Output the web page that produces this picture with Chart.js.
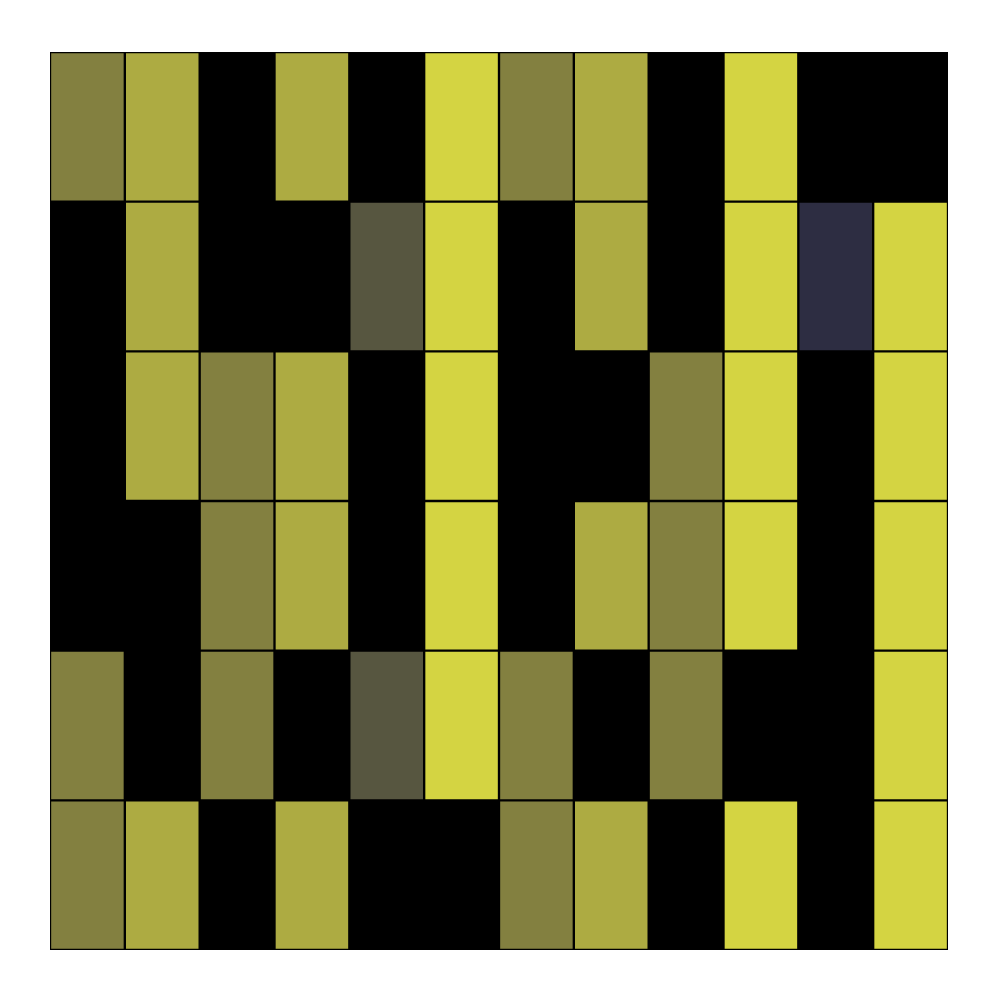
<!DOCTYPE html>
<html>
<head>
<meta charset="utf-8">
<script src="https://cdn.jsdelivr.net/npm/chart.js@4"></script>
<style>
html,body{margin:0;padding:0;background:#fff;}
#wrap{width:1000px;height:1000px;}
</style>
</head>
<body>
<div id="wrap"><canvas id="c" width="1000" height="1000"></canvas></div>
<script>
const columns = ['1','2','3','4','5','6','7','8','9','10','11','12'];
const rowLabels = ['A','B','C','D','E','F'];
// level per cell (0..5), top row first
const row0 = [3,4,0,4,0,5,3,4,0,5,0,0];
const row1 = [0,4,0,0,2,5,0,4,0,5,1,5];
const row2 = [0,4,3,4,0,5,0,0,3,5,0,5];
const row3 = [0,0,3,4,0,5,0,4,3,5,0,5];
const row4 = [3,0,3,0,2,5,3,0,3,0,0,5];
const row5 = [3,4,0,4,0,0,3,4,0,5,0,5];
const palette = ['#000000','#2d2d42','#575640','#838040','#adab42','#d4d442'];

const rows = [row0,row1,row2,row3,row4,row5];
// stacked bars: bottom row first
const datasets = rows.slice().reverse().map((r,i)=>({
  label: rowLabels[rows.length-1-i],
  data: r.map(()=>1),
  backgroundColor: r.map(v=>palette[v]),
  borderColor: '#000000',
  borderWidth: 1.5,
  borderSkipped: false,
  barPercentage: 1,
  categoryPercentage: 1
}));

const bgPlugin = {
  id:'bg',
  beforeDatasetsDraw(chart){
    const {ctx, chartArea:a} = chart;
    ctx.save();
    ctx.fillStyle='#000';
    ctx.fillRect(a.left,a.top,a.right-a.left,a.bottom-a.top);
    ctx.restore();
  },
  afterDatasetsDraw(chart){
    const {ctx, chartArea:a} = chart;
    ctx.save();
    ctx.strokeStyle='#000';
    ctx.lineWidth=1;
    ctx.strokeRect(a.left+0.5,a.top+0.5,a.right-a.left-1,a.bottom-a.top-1);
    ctx.restore();
  }
};

new Chart(document.getElementById('c'), {
  type:'bar',
  data:{labels:columns, datasets},
  options:{
    responsive:false,
    animation:false,
    layout:{padding:{left:50,right:52,top:52,bottom:50}},
    plugins:{legend:{display:false},tooltip:{enabled:false}},
    scales:{
      x:{display:false,stacked:true,grid:{display:false}},
      y:{display:false,stacked:true,min:0,max:6,grid:{display:false}}
    }
  },
  plugins:[bgPlugin]
});
</script>
</body>
</html>
